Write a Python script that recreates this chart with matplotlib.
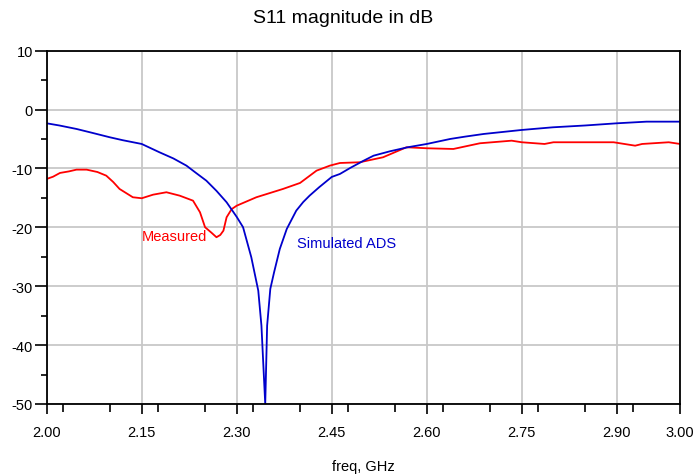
import numpy as np
import matplotlib
matplotlib.use("Agg")
import matplotlib.pyplot as plt
from matplotlib.ticker import MultipleLocator

# Simulated ADS (blue) - freq in GHz, S11 in dB
sim_freq = [2.000, 2.020, 2.047, 2.070, 2.0995, 2.120, 2.150, 2.178, 2.200, 2.2206,
            2.235, 2.252, 2.268, 2.284, 2.300, 2.310, 2.323, 2.334, 2.339, 2.345,
            2.348, 2.353, 2.359, 2.368, 2.379, 2.394, 2.405, 2.415, 2.430, 2.450,
            2.463, 2.479, 2.500, 2.516, 2.542, 2.570, 2.600, 2.637, 2.660, 2.690,
            2.720, 2.750, 2.799, 2.850, 2.900, 2.947, 3.000]
sim_db = [-2.33, -2.70, -3.29, -3.90, -4.70, -5.20, -5.84, -7.25, -8.30, -9.52,
          -10.70, -12.07, -13.80, -15.74, -18.23, -19.98, -25.08, -30.75, -36.69, -50.0,
          -36.69, -30.46, -27.62, -23.67, -20.27, -17.16, -15.70, -14.62, -13.20, -11.44,
          -10.93, -9.92, -8.70, -7.83, -7.08, -6.40, -5.84, -4.99, -4.60, -4.14,
          -3.80, -3.46, -3.01, -2.70, -2.33, -2.05, -2.05]

# Measured (red)
meas_freq = [2.000, 2.010, 2.021, 2.035, 2.047, 2.063, 2.080, 2.094, 2.105, 2.115,
             2.136, 2.150, 2.168, 2.189, 2.210, 2.231, 2.242, 2.250, 2.260, 2.268,
             2.274, 2.279, 2.284, 2.292, 2.300, 2.331, 2.373, 2.400, 2.426, 2.447,
             2.463, 2.494, 2.531, 2.568, 2.600, 2.642, 2.684, 2.734, 2.750, 2.786,
             2.800, 2.895, 2.929, 2.940, 2.982, 3.000]
meas_db = [-11.78, -11.40, -10.76, -10.50, -10.20, -10.20, -10.60, -11.22, -12.30, -13.48,
           -14.89, -15.06, -14.45, -14.04, -14.62, -15.47, -17.44, -19.98, -20.90, -21.68,
           -21.30, -20.56, -18.29, -16.90, -16.32, -14.89, -13.48, -12.46, -10.37, -9.52,
           -9.07, -8.95, -8.10, -6.40, -6.57, -6.69, -5.72, -5.28, -5.55, -5.84,
           -5.55, -5.55, -6.13, -5.84, -5.55, -5.84]

x_ticks = [2.00, 2.15, 2.30, 2.45, 2.60, 2.75, 2.90, 3.00]
x_labels = ["2.00", "2.15", "2.30", "2.45", "2.60", "2.75", "2.90", "3.00"]
y_ticks = [10, 0, -10, -20, -30, -40, -50]

plt.rcParams["font.family"] = ["Liberation Sans", "DejaVu Sans"]
plt.rcParams["axes.unicode_minus"] = False

fig = plt.figure(figsize=(6.94, 4.77), dpi=100)
ax = fig.add_axes([0.0673, 0.151, 0.9127, 0.7406])

ax.plot(meas_freq, meas_db, color="#ff0000", lw=1.3)
ax.plot(sim_freq, sim_db, color="#0000cc", lw=1.3)

ax.set_xlim(2.0, 3.0)
ax.set_ylim(-50, 10)
ax.set_xticks(x_ticks)
ax.set_xticklabels(x_labels)
ax.set_yticks(y_ticks)
ax.xaxis.set_minor_locator(MultipleLocator(0.075))
ax.yaxis.set_minor_locator(MultipleLocator(5))
ax.tick_params(axis="x", which="major", length=7, width=1.2, labelsize=10.5, pad=8)
ax.tick_params(axis="x", which="minor", length=6, width=1.2)
ax.tick_params(axis="y", which="major", length=9, width=1.2, labelsize=10.5, pad=1)
ax.tick_params(axis="y", which="minor", length=4, width=1.2)

ax.grid(True, which="major", color="#c8c8c8", lw=1.3)
ax.set_axisbelow(True)
for s in ax.spines.values():
    s.set_color("black")
    s.set_linewidth(1.3)

ax.text(2.15, -21.5, "Measured", color="#ff0000", fontsize=10.5, va="center")
ax.text(2.395, -22.7, "Simulated ADS", color="#0000cc", fontsize=10.5, va="center")

fig.text(0.494, 0.962, "S11 magnitude in dB", fontsize=14, ha="center", va="center")
fig.text(0.524, 0.021, "freq, GHz", fontsize=10.5, ha="center", va="center")

fig.savefig("out.png", dpi=100)
